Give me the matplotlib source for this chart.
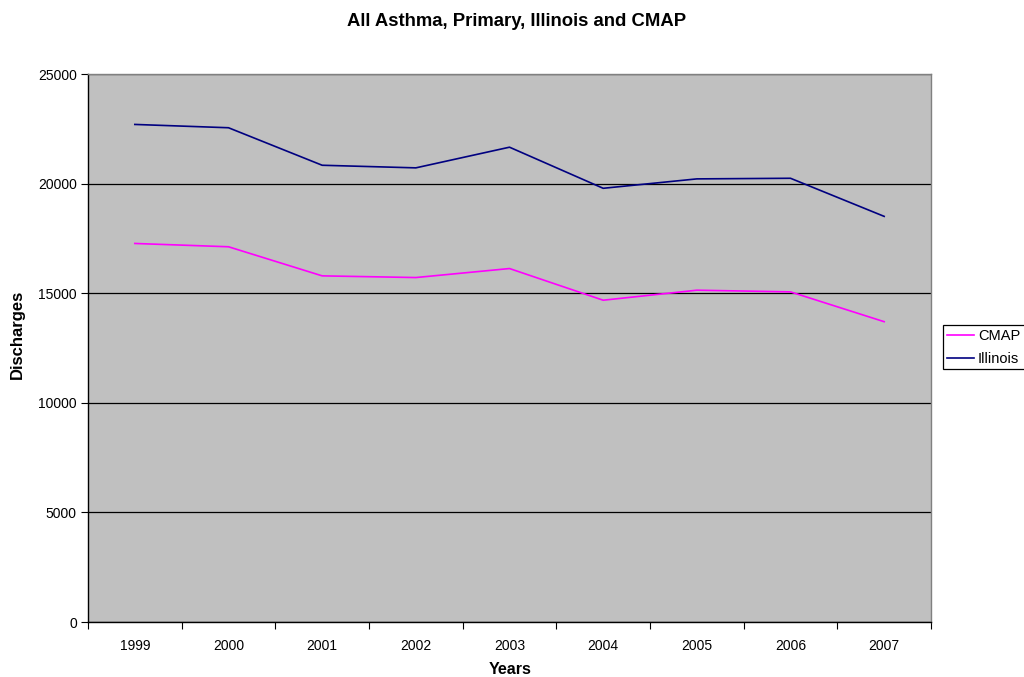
import matplotlib
matplotlib.use("Agg")
import matplotlib.pyplot as plt
import numpy as np

plt.rcParams['font.family'] = ['Liberation Sans', 'DejaVu Sans']

years = ["1999", "2000", "2001", "2002", "2003", "2004", "2005", "2006", "2007"]
cmap_vals = [17269, 17118, 15791, 15714, 16125, 14680, 15137, 15060, 13700]
illinois_vals = [22699, 22548, 20837, 20718, 21661, 19786, 20215, 20243, 18505]

fig = plt.figure(figsize=(10.24, 6.77), dpi=100)
ax = fig.add_axes([88/1024, 1-622/677, (931-88)/1024, (622-74)/677])
ax.set_facecolor('#C0C0C0')

x = np.arange(len(years))
ax.plot(x, cmap_vals, color='#FF00FF', lw=1.2, label='CMAP')
ax.plot(x, illinois_vals, color='#000080', lw=1.2, label='Illinois')

ax.set_xlim(-0.5, len(years) - 0.5)
ax.set_ylim(0, 25000)
ax.set_yticks(np.arange(0, 25001, 5000))
ax.yaxis.grid(True, color='black', lw=0.9)
ax.set_axisbelow(True)

ax.set_xticks(np.arange(-0.5, len(years), 1.0))
ax.set_xticklabels([])
ax.set_xticks(x, minor=True)
ax.set_xticklabels(years, minor=True)
ax.tick_params(axis='x', which='major', length=5, direction='out', color='black')
ax.tick_params(axis='x', which='minor', length=0, pad=12, labelsize=10)
ax.tick_params(axis='y', length=5, direction='out', labelsize=10, pad=3)

for s in ['left', 'bottom']:
    ax.spines[s].set_color('black')
    ax.spines[s].set_linewidth(1.0)
for s in ['top', 'right']:
    ax.spines[s].set_color('#808080')
    ax.spines[s].set_linewidth(1.0)

fig.text(517/1024, 1-21/677, 'All Asthma, Primary, Illinois and CMAP', ha='center', va='center',
         fontsize=13.3, fontweight='bold')
fig.text(17/1024, 1-334/677, 'Discharges', rotation=90, ha='center', va='center',
         fontsize=12, fontweight='bold')
fig.text(510/1024, 1-669/677, 'Years', ha='center', va='center',
         fontsize=11.5, fontweight='bold')

leg = fig.legend(loc='upper left', bbox_to_anchor=(943/1024, 1-325/677, 0.1, 0),
                 mode='expand',
                 frameon=True, fancybox=False, edgecolor='black', framealpha=1,
                 fontsize=10.5, handlelength=1.85, handletextpad=0.3,
                 borderpad=0.25, labelspacing=0.62, borderaxespad=0)
leg.get_frame().set_linewidth(0.9)

fig.savefig('out.png', dpi=100)
